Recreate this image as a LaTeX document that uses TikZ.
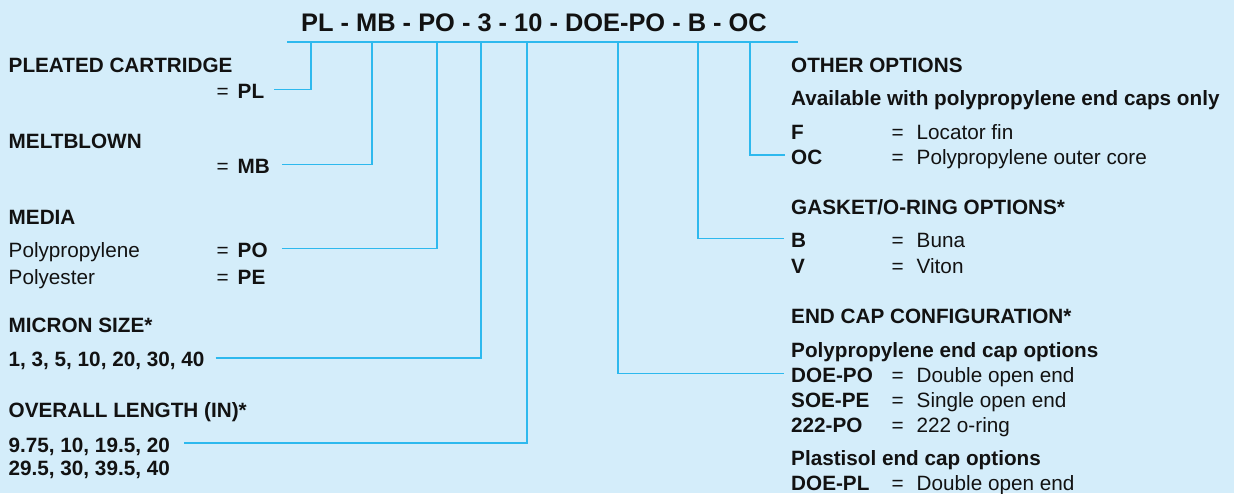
\documentclass[tikz,border=0pt]{standalone}
\usepackage{fontspec}
\setmainfont{Liberation Sans}
\definecolor{bgblue}{RGB}{212,237,250}
\definecolor{keyline}{RGB}{45,185,238}
\definecolor{ink}{RGB}{18,18,18}
\begin{document}
\begin{tikzpicture}[x=1pt,y=-1pt,
  every node/.style={font=\fontsize{20.7}{24}\selectfont,inner sep=0pt,
    text height=18pt,text depth=0pt,anchor=west,text=ink},
  hd/.style={font=\fontsize{20.7}{24}\selectfont\bfseries},
  code/.style={font=\fontsize{20.7}{24}\selectfont\bfseries},
  link/.style={keyline,line width=1.6pt}]
 \fill[bgblue] (0,0) rectangle (1234,493);
 % part number and bar
 \node[anchor=base,font=\fontsize{25.4}{30}\selectfont\bfseries] (pn) at (534,31.7)
   {PL - MB - PO - 3 - 10 - DOE-PO - B - OC};
 \coordinate (barL) at (287,42);
 \coordinate (barR) at (798,42);
 \draw[link] (barL) -- (barR);
 \coordinate (tPL) at (311,42);
 \coordinate (tMB) at (372,42);
 \coordinate (tPO) at (437,42);
 \coordinate (tSZ) at (481,42);
 \coordinate (tLG) at (527,42);
 \coordinate (tEC) at (618,42);
 \coordinate (tGK) at (698,42);
 \coordinate (tOC) at (750,42);
 % left column
 \node[hd] (hPL) at (8.5,63) {PLEATED CARTRIDGE};
 \node (ePL) at (216.5,89.3) {=};
 \node[code] (cPL) at (237.5,89.3) {PL};
 \node[hd] (hMB) at (8.5,139.3) {MELTBLOWN};
 \node (eMB) at (216.5,164.3) {=};
 \node[code] (cMB) at (237.5,164.3) {MB};
 \node[hd] (hMD) at (8.5,215) {MEDIA};
 \node (nPO) at (8.5,248.3) {Polypropylene};
 \node (ePO) at (216.5,248.3) {=};
 \node[code] (cPO) at (237.5,248.3) {PO};
 \node (nPE) at (8.5,275.5) {Polyester};
 \node (ePE) at (216.5,275.5) {=};
 \node[code] (cPE) at (237.5,275.5) {PE};
 \node[hd] (hSZ) at (8.5,323.5) {MICRON SIZE*};
 \node[code] (cSZ) at (8.5,357.7) {1, 3, 5, 10, 20, 30, 40};
 \node[hd] (hLG) at (8.5,408.5) {OVERALL LENGTH (IN)*};
 \node[code] (cLG) at (8.5,443) {9.75, 10, 19.5, 20};
 \node[code] (cLG2) at (8.5,466.5) {29.5, 30, 39.5, 40};
 % right column
 \node[hd] (hOT) at (791,63.3) {OTHER OPTIONS};
 \node[hd] (sOT) at (791,96.3) {Available with polypropylene end caps only};
 \node[code] (cF) at (791,130.2) {F};
 \node (eF) at (891.5,130.2) {=};
 \node (vF) at (916.5,130.2) {Locator fin};
 \node[code] (cOC) at (791,155) {OC};
 \node (eOC) at (891.5,155) {=};
 \node (vOC) at (916.5,155) {Polypropylene outer core};
 \node[hd] (hGK) at (791,205.2) {GASKET/O-RING OPTIONS*};
 \node[code] (cB) at (791,238.5) {B};
 \node (eB) at (891.5,238.5) {=};
 \node (vB) at (916.5,238.5) {Buna};
 \node[code] (cV) at (791,264.8) {V};
 \node (eV) at (891.5,264.8) {=};
 \node (vV) at (916.5,264.8) {Viton};
 \node[hd] (hEC) at (791,314.8) {END CAP CONFIGURATION*};
 \node[hd] (sPP) at (791,348.2) {Polypropylene end cap options};
 \node[code] (cDOEPO) at (791,373.5) {DOE-PO};
 \node (eDOEPO) at (891.5,373.5) {=};
 \node (vDOEPO) at (916.5,373.5) {Double open end};
 \node[code] (cSOEPE) at (791,398.5) {SOE-PE};
 \node (eSOEPE) at (891.5,398.5) {=};
 \node (vSOEPE) at (916.5,398.5) {Single open end};
 \node[code] (cRPO) at (791,423.5) {222-PO};
 \node (eRPO) at (891.5,423.5) {=};
 \node (vRPO) at (916.5,423.5) {222 o-ring};
 \node[hd] (sPS) at (791,456.3) {Plastisol end cap options};
 \node[code] (cDOEPL) at (791,481.8) {DOE-PL};
 \node (eDOEPL) at (891.5,481.8) {=};
 \node (vDOEPL) at (916.5,481.8) {Double open end};
 % connectors
 \draw[link] ([xshift=10pt]cPL.east) -| (tPL);
 \draw[link] ([xshift=12pt]cMB.east) -| (tMB);
 \draw[link] ([xshift=14pt]cPO.east) -| (tPO);
 \draw[link] ([xshift=11pt]cSZ.east) -| (tSZ);
 \draw[link] ([xshift=14pt]cLG.east) -| (tLG);
 \draw[link] (tEC) |- ([xshift=-7pt]cDOEPO.west);
 \draw[link] (tGK) |- ([xshift=-7pt]cB.west);
 \draw[link] (tOC) |- ([xshift=-6pt]cOC.west);
\end{tikzpicture}
\end{document}
